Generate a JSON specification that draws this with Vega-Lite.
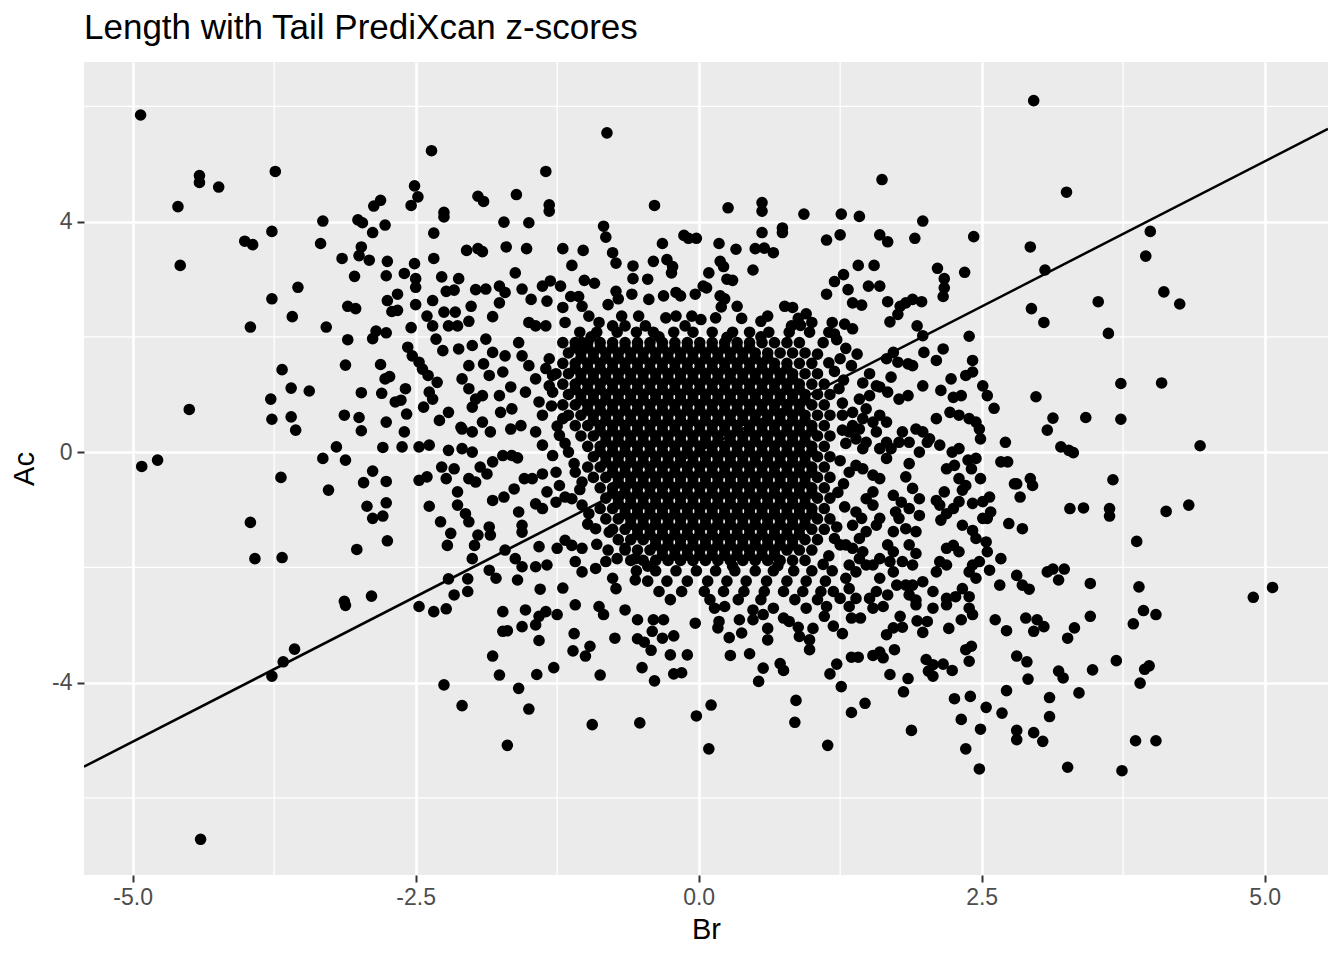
{
  "$schema": "https://vega.github.io/schema/vega-lite/v6.json",
  "description": "Scatter of Br against Ac PrediXcan z-scores with a reference line, ggplot-style panel.",
  "width": 1244,
  "height": 813,
  "autosize": {"type": "none"},
  "padding": {"left": 84, "top": 62, "right": 16, "bottom": 85},
  "title": {
    "text": "Length with Tail PrediXcan z-scores",
    "anchor": "start",
    "frame": "group",
    "font": "Liberation Sans",
    "fontSize": 35,
    "fontWeight": "normal",
    "color": "black",
    "baseline": "alphabetic",
    "offset": 22,
    "dy": 35
  },
  "config": {
    "view": {"fill": "#EBEBEB", "stroke": null},
    "axis": {
      "domain": false,
      "grid": true,
      "gridColor": "white",
      "gridWidth": 2.6,
      "tickColor": "#333333",
      "tickSize": 7,
      "tickWidth": 2,
      "labelColor": "#4D4D4D",
      "labelFont": "Liberation Sans",
      "labelFontSize": 23,
      "titleFont": "Liberation Sans",
      "titleFontSize": 29,
      "titleFontWeight": "normal",
      "titleColor": "black"
    },
    "axisX": {"labelPadding": 4, "titlePadding": 6},
    "axisY": {"labelPadding": 5, "titlePadding": 12}
  },
  "layer": [
    {
      "data": {"values": [{"x": -3.75}, {"x": -1.25}, {"x": 1.25}, {"x": 3.75}]},
      "mark": {"type": "rule", "color": "white", "strokeWidth": 1.3},
      "encoding": {"x": {"field": "x", "type": "quantitative", "title": "Br"}}
    },
    {
      "data": {"values": [{"y": -6}, {"y": -2}, {"y": 2}, {"y": 6}]},
      "mark": {"type": "rule", "color": "white", "strokeWidth": 1.3},
      "encoding": {"y": {"field": "y", "type": "quantitative", "title": "Ac"}}
    },
    {
      "data": {
        "values": "x,y\n-4.93,5.85\n-4.41,4.80\n-4.41,4.68\n-4.24,4.60\n-4.60,4.26\n-3.74,4.87\n-4.58,3.24\n-3.77,3.83\n-4.01,3.66\n-3.94,3.60\n-3.32,4.01\n-3.34,3.62\n-3.01,4.03\n-2.97,3.98\n-2.87,4.27\n-2.81,4.37\n-2.77,3.94\n-2.88,3.81\n-3.15,3.36\n-2.98,3.56\n-3.00,3.41\n-2.91,3.33\n-2.75,3.31\n-3.04,3.05\n-2.76,3.06\n-3.54,2.86\n-3.77,2.66\n-3.10,2.53\n-3.03,2.49\n-2.75,2.63\n-2.71,2.44\n-3.59,2.35\n-3.96,2.17\n-3.29,2.17\n-2.85,2.10\n-2.76,2.07\n-3.10,1.95\n-2.88,1.97\n-3.12,1.51\n-2.81,1.52\n-2.77,1.27\n-2.73,1.31\n-2.98,1.03\n-2.80,1.02\n-2.68,0.87\n-3.68,1.43\n-3.60,1.11\n-3.44,1.06\n-3.78,0.92\n-4.50,0.74\n-3.77,0.57\n-3.60,0.61\n-3.56,0.38\n-3.13,0.64\n-3.00,0.60\n-2.98,0.37\n-2.76,0.52\n-3.20,0.09\n-2.79,0.08\n-4.92,-0.25\n-4.78,-0.14\n-3.32,-0.11\n-3.12,-0.14\n-3.69,-0.44\n-2.88,-0.33\n-2.96,-0.53\n-2.76,-0.51\n-3.27,-0.66\n-2.93,-0.94\n-2.76,-0.88\n-2.88,-1.15\n-2.79,-1.11\n-3.96,-1.22\n-2.75,-1.54\n-3.02,-1.69\n-3.92,-1.85\n-3.68,-1.83\n-3.13,-2.59\n-3.12,-2.66\n-2.89,-2.50\n-3.57,-3.42\n-3.67,-3.64\n-3.77,-3.89\n-4.40,-6.72\n-0.81,5.54\n-2.36,5.23\n-1.35,4.87\n-2.51,4.62\n-2.48,4.43\n-2.54,4.28\n-2.25,4.16\n-2.25,4.08\n-1.95,4.44\n-1.90,4.35\n-1.61,4.47\n-1.32,4.29\n-1.32,4.18\n-0.39,4.28\n-2.34,3.80\n-1.72,3.99\n-1.50,3.98\n-0.84,3.92\n-0.82,3.73\n-0.13,3.76\n-0.09,3.71\n-0.02,3.71\n-0.32,3.62\n-2.34,3.36\n-2.51,3.27\n-2.05,3.50\n-1.95,3.53\n-1.91,3.48\n-1.70,3.56\n-1.52,3.53\n-1.20,3.53\n-1.12,3.24\n-1.02,3.50\n-0.76,3.46\n-0.73,3.28\n-0.58,3.23\n-0.58,3.01\n-0.45,3.00\n-0.40,3.31\n-0.28,3.34\n-0.23,3.22\n-0.24,3.11\n-2.60,3.10\n-2.50,3.01\n-2.50,2.86\n-2.27,3.04\n-2.12,3.01\n-2.66,2.74\n-2.66,2.46\n-2.50,2.56\n-2.35,2.63\n-2.23,2.79\n-2.16,2.81\n-2.25,2.43\n-2.15,2.43\n-2.01,2.53\n-1.97,2.82\n-1.88,2.83\n-1.76,2.88\n-1.71,2.77\n-1.62,3.11\n-1.56,2.83\n-1.76,2.59\n-1.82,2.35\n-2.03,2.27\n-2.40,2.36\n-2.54,2.16\n-2.35,2.19\n-2.21,2.19\n-2.13,2.19\n-1.48,2.65\n-1.38,2.88\n-1.31,2.97\n-1.22,2.88\n-1.34,2.62\n-1.13,2.70\n-1.06,2.70\n-1.01,2.98\n-0.92,2.93\n-0.80,2.56\n-0.73,2.79\n-0.71,2.66\n-0.59,2.74\n-0.44,2.65\n-0.31,2.71\n-0.20,2.77\n-0.16,2.71\n-0.03,2.74\n0.04,2.88\n-1.50,2.25\n-1.44,2.19\n-1.35,2.19\n-1.20,2.51\n-1.18,2.25\n-1.03,2.53\n-0.97,2.36\n-0.88,2.25\n-0.76,2.19\n-0.68,2.36\n-0.65,2.19\n-0.53,2.36\n-0.47,2.19\n-0.29,2.33\n-0.20,2.36\n-0.12,2.19\n-0.06,2.36\n0.02,2.30\n1.62,4.73\n0.26,4.24\n0.56,4.33\n0.56,4.18\n0.93,4.13\n1.26,4.13\n1.42,4.09\n1.98,4.01\n2.43,3.74\n0.56,3.81\n0.74,3.89\n0.74,3.81\n1.13,3.68\n1.25,3.77\n1.60,3.77\n1.67,3.65\n1.91,3.71\n0.18,3.62\n0.33,3.52\n0.50,3.53\n0.58,3.54\n0.66,3.46\n0.19,3.31\n0.22,3.22\n0.09,3.11\n0.48,3.16\n0.25,3.00\n0.30,2.98\n0.07,2.85\n0.19,2.71\n0.23,2.66\n0.20,2.52\n0.34,2.53\n0.15,2.33\n0.38,2.32\n0.55,2.27\n0.61,2.36\n0.76,2.53\n0.83,2.51\n0.88,2.32\n0.82,2.19\n1.41,3.24\n1.55,3.24\n1.28,3.08\n1.20,2.96\n1.32,2.82\n1.50,2.88\n1.60,2.88\n1.13,2.74\n1.36,2.59\n1.44,2.55\n1.67,2.61\n1.78,2.53\n1.83,2.59\n1.89,2.65\n1.97,2.61\n1.76,2.39\n1.69,2.26\n1.93,2.19\n2.11,3.19\n2.17,3.01\n2.17,2.85\n2.16,2.70\n2.35,3.12\n1.18,2.25\n1.29,2.22\n1.36,2.14\n2.96,6.10\n3.25,4.51\n3.99,3.83\n3.95,3.40\n2.93,3.56\n3.06,3.16\n4.11,2.78\n4.25,2.57\n3.53,2.61\n2.94,2.49\n3.05,2.25\n3.62,2.06\n3.73,1.19\n4.09,1.20\n2.98,0.96\n3.13,0.59\n3.08,0.38\n3.42,0.60\n3.73,0.57\n3.20,0.09\n3.27,0.03\n3.31,-0.01\n4.43,0.11\n2.81,-0.55\n2.93,-0.46\n2.95,-0.58\n2.84,-0.78\n3.66,-0.48\n3.28,-0.98\n3.40,-0.97\n3.63,-0.98\n3.63,-1.11\n4.13,-1.03\n4.33,-0.92\n2.86,-1.33\n3.87,-1.55\n3.08,-2.08\n3.13,-2.03\n3.23,-2.03\n3.18,-2.22\n3.46,-2.28\n3.89,-2.34\n2.81,-2.14\n2.86,-2.31\n2.92,-2.38\n4.90,-2.52\n5.07,-2.35\n2.89,-2.88\n2.99,-2.91\n3.05,-3.03\n2.96,-3.11\n3.46,-2.85\n3.32,-3.05\n3.26,-3.23\n3.93,-2.75\n4.04,-2.82\n3.84,-2.98\n2.81,-3.54\n2.90,-3.64\n2.91,-3.94\n3.18,-3.80\n3.22,-3.92\n3.48,-3.78\n3.69,-3.62\n3.98,-3.71\n3.94,-3.77\n3.90,-4.01\n3.10,-4.26\n3.36,-4.18\n3.10,-4.59\n2.81,-4.83\n2.81,-4.99\n2.96,-4.87\n3.04,-5.02\n3.86,-5.01\n4.04,-5.01\n3.26,-5.47\n3.74,-5.53\n0.11,-4.39\n0.09,-5.15\n0.86,-4.31\n0.85,-4.69\n1.14,-5.09\n1.26,-4.07\n1.35,-4.52\n1.47,-4.36\n1.81,-4.16\n1.88,-4.83\n2.26,-4.28\n2.40,-4.24\n2.54,-4.43\n2.68,-4.53\n2.72,-4.14\n2.32,-4.64\n2.49,-4.81\n2.36,-5.15\n2.48,-5.50\n0.53,-3.98\n0.57,-3.75\n0.72,-3.67\n0.75,-3.79\n0.28,-3.53\n0.45,-3.50\n1.16,-3.85\n1.22,-3.68\n1.35,-3.56\n1.41,-3.56\n1.54,-3.53\n1.60,-3.47\n1.63,-3.57\n1.69,-3.86\n1.85,-3.93\n1.73,-3.43\n2.01,-3.60\n2.07,-3.69\n2.03,-3.80\n2.07,-3.89\n2.16,-3.68\n2.24,-3.79\n2.36,-3.43\n2.41,-3.37\n2.39,-3.63\n1.66,-3.17\n1.72,-3.05\n1.80,-3.04\n1.78,-2.85\n1.93,-2.93\n2.02,-2.94\n1.98,-3.13\n2.21,-3.06\n2.32,-2.91\n2.62,-2.91\n2.72,-3.10\n1.35,-2.88\n1.43,-2.88\n1.27,-3.15\n1.01,-3.06\n0.98,-3.26\n0.98,-3.43\n0.89,-3.20\n0.88,-3.04\n0.61,-3.06\n0.61,-3.26\n0.38,-3.14\n0.27,-3.22\n0.18,-2.94\n0.17,-3.05\n0.36,-2.91\n0.48,-2.91\n0.57,-2.82\n0.75,-2.88\n0.80,-2.94\n1.11,-2.85\n1.19,-3.02\n0.14,-2.71\n0.23,-2.68\n0.48,-2.74\n0.66,-2.71\n0.95,-2.71\n1.13,-2.68\n1.33,-2.68\n1.54,-2.71\n1.63,-2.68\n1.92,-2.65\n2.07,-2.71\n2.19,-2.65\n2.39,-2.71\n2.42,-2.82\n-2.25,-4.04\n-2.09,-4.40\n-1.69,-5.09\n-1.59,-4.10\n-1.50,-4.46\n-0.94,-4.73\n-0.52,-4.70\n-0.02,-4.58\n-1.82,-3.54\n-1.76,-3.87\n-1.43,-3.86\n-1.28,-3.74\n-1.11,-3.45\n-1.00,-3.54\n-0.96,-3.37\n-1.10,-3.15\n-0.87,-3.87\n-0.74,-3.23\n-0.50,-3.74\n-0.39,-3.97\n-0.25,-3.52\n-0.10,-3.52\n-0.22,-3.85\n-0.15,-3.83\n-0.54,-3.24\n-0.48,-3.30\n-0.42,-3.44\n-0.32,-3.23\n-0.22,-3.19\n-0.40,-2.91\n-0.31,-2.91\n-0.41,-3.11\n-0.03,-2.97\n-0.65,-2.74\n-0.54,-2.91\n-0.84,-2.82\n-1.73,-2.77\n-1.53,-2.74\n-1.73,-3.11\n-1.69,-3.10\n-1.56,-3.03\n-1.44,-3.00\n-1.41,-3.27\n-1.41,-2.85\n-1.35,-2.77\n-1.25,-2.82\n-1.09,-2.65\n-0.88,-2.68\n-2.34,-2.77\n-2.23,-2.72\n-2.47,-2.68\n-2.62,0.09\n-2.60,0.35\n-2.58,0.66\n-2.63,0.90\n-2.59,1.10\n-2.57,1.82\n-2.47,0.09\n-2.38,0.12\n-2.47,-0.49\n-2.40,-0.43\n-2.38,-0.94\n-2.28,-1.21\n-2.19,-1.41\n-2.22,-1.62\n-2.13,-0.69\n-2.13,-0.92\n-2.06,-1.07\n-2.03,-1.21\n-2.27,-0.26\n-2.16,-0.29\n-2.23,-0.46\n-2.21,0.03\n-2.09,0.06\n-2.00,0.00\n-2.03,-0.46\n-1.97,-0.52\n-1.93,-0.26\n-1.87,-0.38\n-1.82,-0.84\n-1.72,-0.78\n-1.85,-1.30\n-1.84,-1.44\n-1.95,-1.44\n-1.98,-1.62\n-2.00,-1.85\n-2.21,-2.20\n-2.04,-2.20\n-2.04,-2.42\n-2.16,-2.48\n-1.85,-2.05\n-1.79,-2.19\n-1.71,-1.70\n-1.62,-1.85\n-1.56,-1.99\n-1.44,-1.99\n-1.34,-1.96\n-1.60,-2.22\n-1.41,-1.64\n-1.25,-1.67\n-1.18,-1.53\n-1.40,-2.38\n-1.20,-2.36\n-1.56,-1.27\n-1.56,-1.39\n-1.59,-1.04\n-1.63,-0.64\n-1.54,-0.46\n-1.47,-0.46\n-1.38,-0.38\n-1.26,-0.35\n-1.23,-0.58\n-1.34,-0.69\n-1.44,-0.90\n-1.38,-0.98\n-1.26,-0.87\n-1.18,-0.78\n-1.82,-0.17\n-1.73,-0.06\n-1.65,-0.06\n-1.60,-0.10\n-2.09,0.40\n-2.00,0.35\n-1.91,0.52\n-1.84,0.35\n-2.21,0.69\n-2.10,0.43\n-2.29,0.55\n-2.43,0.78\n-2.35,0.92\n-2.38,1.04\n-2.31,1.21\n-2.39,1.33\n-2.44,1.44\n-2.47,1.56\n-2.53,1.67\n-2.32,1.96\n-2.26,1.76\n-2.09,1.27\n-2.03,1.10\n-1.97,0.92\n-1.91,0.98\n-2.00,0.78\n-2.12,1.79\n-2.00,1.85\n-1.88,1.96\n-1.82,1.73\n-2.03,1.50\n-1.90,1.53\n-1.85,1.33\n-1.73,1.39\n-1.71,1.67\n-1.76,0.98\n-1.66,1.13\n-1.65,0.75\n-1.57,0.46\n-1.66,0.40\n-1.75,0.69\n-1.59,1.90\n-1.56,1.67\n-1.50,1.50\n-1.44,1.27\n-1.53,1.04\n-1.41,0.87\n-1.38,0.64\n-1.44,0.35\n-1.38,0.12\n-1.29,-0.06\n-1.32,1.62\n-1.29,1.33\n-1.29,1.04\n-1.20,0.58\n-1.23,0.29\n-1.15,0.00\n-1.09,-0.35\n-1.03,-0.52\n-1.12,-0.81\n-1.03,-0.92\n-0.97,-1.07\n-1.03,1.90\n-0.91,-1.33\n-0.79,-1.39\n-1.03,-1.67\n-1.12,-1.62\n-1.09,-1.90\n-1.03,-2.08\n-0.91,-2.02\n-0.82,-1.90\n-0.72,-1.85\n-0.76,-2.19\n-0.73,-2.37\n-0.65,-1.67\n-0.56,-1.85\n-0.56,-2.22\n1.51,1.36\n1.70,1.30\n1.60,1.13\n1.67,1.04\n1.77,0.92\n1.85,0.98\n1.98,1.15\n2.14,1.07\n2.23,1.27\n2.25,0.95\n2.32,0.98\n2.10,0.58\n2.22,0.69\n2.30,0.64\n2.39,0.58\n2.45,0.52\n2.48,0.40\n2.49,0.23\n2.51,1.15\n2.55,0.98\n2.61,0.76\n2.42,1.59\n2.42,1.39\n2.36,1.33\n2.16,1.79\n2.10,1.59\n1.99,1.73\n1.89,1.50\n1.85,1.53\n2.39,2.01\n1.98,2.02\n1.72,1.73\n1.66,1.62\n1.76,1.56\n2.71,0.17\n2.67,-0.17\n2.73,-0.17\n2.79,-0.55\n2.57,-0.78\n2.74,-1.24\n2.58,-1.04\n2.55,-1.15\n2.54,-1.56\n2.55,-1.73\n2.67,-1.85\n2.57,-2.05\n2.66,-2.31\n2.48,-1.90\n2.42,-1.96\n2.39,-2.08\n2.45,-2.19\n2.33,-2.37\n2.39,-2.51\n2.19,-1.96\n2.13,-1.90\n2.10,-2.08\n2.25,-1.62\n2.30,-1.73\n2.19,-1.67\n2.33,-1.27\n2.42,-1.36\n2.45,-1.50\n2.51,-1.15\n2.42,-0.89\n2.51,-0.86\n2.25,-0.98\n2.30,-0.86\n2.13,-0.92\n2.19,-1.07\n2.14,-1.18\n2.10,-0.84\n2.17,-0.69\n2.19,-0.29\n2.26,-0.23\n2.30,-0.46\n2.36,-0.58\n2.33,-0.66\n2.41,-0.29\n2.24,0.00\n2.30,0.06\n2.38,-0.14\n2.45,-0.11\n2.49,-0.46\n2.13,0.12\n2.02,0.17\n1.98,0.35\n2.04,0.23\n1.95,0.00\n1.86,-0.20\n1.83,-0.43\n1.89,-0.63\n1.95,-0.81\n1.86,-0.98\n1.95,-1.10\n1.92,-1.38\n1.86,-1.61\n1.92,-1.76\n1.89,-1.96\n1.98,-2.25\n1.89,-2.31\n2.07,-2.42\n2.19,-2.54\n2.27,-2.51\n1.80,0.35\n1.92,0.40\n1.86,0.17\n1.70,0.06\n1.77,0.17\n1.66,-0.11\n1.72,-0.75\n1.79,-0.87\n1.74,-1.04\n1.77,-1.15\n1.72,-1.38\n1.83,-1.33\n1.67,-1.61\n1.72,-1.73\n1.80,-1.90\n1.60,-1.85\n1.69,-1.90\n1.54,-1.96\n1.72,-2.08\n1.60,-2.19\n1.75,-2.31\n1.67,-2.48\n1.83,-2.31\n1.86,-2.48\n1.92,-2.57\n1.57,-2.42\n1.51,-2.54\n1.42,-1.85\n1.45,-1.73\n1.48,-1.96\n1.54,-0.92\n1.57,-1.27\n1.48,-1.38\n1.42,-1.50\n1.60,-1.15\n1.39,-1.04\n1.44,-1.15\n1.36,-1.27\n1.30,-1.61\n1.25,-1.61\n1.36,-1.67\n1.33,-1.96\n1.39,-2.08\n1.30,-2.19\n1.33,-2.37\n1.39,-2.54\n1.25,-2.54\n1.19,-2.42\n1.48,-0.81\n1.54,-0.69\n1.60,-0.46\n1.54,-0.40\n1.45,-0.29\n1.39,-0.23\n1.33,-0.35\n1.45,0.06\n1.39,0.23\n1.33,0.35\n1.42,0.40\n1.48,0.17\n1.60,0.06\n1.66,0.17\n1.57,0.35\n1.36,0.46\n1.45,0.58\n1.54,0.52\n1.60,0.64\n1.66,0.52\n1.48,0.75\n1.42,0.92\n1.51,0.98\n1.57,1.15\n1.27,0.38\n1.27,0.64\n1.36,0.69\n1.22,1.95\n1.30,1.80\n1.25,1.62\n1.35,1.50\n1.20,1.40\n1.40,1.70\n1.28,1.25\n1.45,1.20\n1.00,2.25\n1.10,1.90\n1.05,1.70\n1.15,1.55\n0.95,2.40\n1.20,2.05\n0.90,2.20\n1.24,1.10\n1.27,0.85\n1.30,0.15\n1.25,-0.15\n1.28,-0.55\n1.23,-0.70\n1.29,-0.95\n1.22,-1.30\n1.20,-1.50\n1.15,-1.80\n1.10,-1.95\n-1.35,1.45\n-1.32,1.15\n-1.30,0.80\n-1.25,0.45\n-1.18,0.15\n-1.10,-0.20\n-1.05,-0.65\n-0.98,-1.25\n-0.90,-1.60\n-0.80,-1.70\n-0.45,-1.98\n0.30,-1.98\n0.70,-1.97\n-0.95,2.00\n-0.35,2.00\n0.25,1.99\n0.55,2.00\n-1.05,2.08\n-0.90,2.08\n-0.72,2.08\n-0.55,2.08\n-0.40,2.08\n-0.22,2.08\n-0.05,2.08\n0.12,2.08\n0.30,2.08\n0.45,2.08\n0.62,2.08\n0.80,2.08\n0.98,2.08\n1.15,2.08\n-0.55,-2.06\n-0.38,-2.06\n-0.20,-2.06\n-0.02,-2.06\n0.15,-2.06\n0.32,-2.06\n0.50,-2.06\n0.66,-2.06\n0.84,-2.06\n1.00,-2.06\n1.18,-2.06\n-0.45,-2.24\n-0.28,-2.24\n-0.10,-2.24\n0.08,-2.24\n0.25,-2.24\n0.42,-2.24\n0.60,-2.24\n0.78,-2.24\n0.95,-2.24\n1.12,-2.24\n-0.35,-2.42\n-0.15,-2.42\n0.05,-2.42\n0.22,-2.42\n0.40,-2.42\n0.58,-2.42\n0.75,-2.42\n0.92,-2.42\n1.08,-2.42\n-0.25,-2.56\n0.10,-2.56\n0.35,-2.56\n0.55,-2.56\n0.85,-2.56\n1.05,-2.56\n-1.20,1.90\n-1.09,1.90\n-0.98,1.90\n-0.87,1.90\n-0.76,1.90\n-0.65,1.90\n-0.54,1.90\n-0.43,1.90\n-0.32,1.90\n-0.21,1.90\n-0.10,1.90\n0.01,1.90\n0.12,1.90\n0.23,1.90\n0.34,1.90\n0.45,1.90\n0.56,1.90\n0.67,1.90\n0.78,1.90\n0.89,1.90\n-1.15,1.72\n-1.04,1.72\n-0.93,1.72\n-0.82,1.72\n-0.71,1.72\n-0.60,1.72\n-0.49,1.72\n-0.38,1.72\n-0.27,1.72\n-0.16,1.72\n-0.05,1.72\n0.06,1.72\n0.17,1.72\n0.28,1.72\n0.39,1.72\n0.50,1.72\n0.61,1.72\n0.72,1.72\n0.83,1.72\n0.94,1.72\n-1.20,1.54\n-1.09,1.54\n-0.98,1.54\n-0.87,1.54\n-0.76,1.54\n-0.65,1.54\n-0.54,1.54\n-0.43,1.54\n-0.32,1.54\n-0.21,1.54\n-0.10,1.54\n0.01,1.54\n0.12,1.54\n0.23,1.54\n0.34,1.54\n0.45,1.54\n0.56,1.54\n0.67,1.54\n0.78,1.54\n0.89,1.54\n1.00,1.54\n-1.26,1.36\n-1.15,1.36\n-1.04,1.36\n-0.93,1.36\n-0.82,1.36\n-0.71,1.36\n-0.60,1.36\n-0.49,1.36\n-0.38,1.36\n-0.27,1.36\n-0.16,1.36\n-0.05,1.36\n0.06,1.36\n0.17,1.36\n0.28,1.36\n0.39,1.36\n0.50,1.36\n0.61,1.36\n0.72,1.36\n0.83,1.36\n0.94,1.36\n1.05,1.36\n-1.20,1.18\n-1.09,1.18\n-0.98,1.18\n-0.87,1.18\n-0.76,1.18\n-0.65,1.18\n-0.54,1.18\n-0.43,1.18\n-0.32,1.18\n-0.21,1.18\n-0.10,1.18\n0.01,1.18\n0.12,1.18\n0.23,1.18\n0.34,1.18\n0.45,1.18\n0.56,1.18\n0.67,1.18\n0.78,1.18\n0.89,1.18\n1.00,1.18\n1.11,1.18\n-1.15,1.00\n-1.04,1.00\n-0.93,1.00\n-0.82,1.00\n-0.71,1.00\n-0.60,1.00\n-0.49,1.00\n-0.38,1.00\n-0.27,1.00\n-0.16,1.00\n-0.05,1.00\n0.06,1.00\n0.17,1.00\n0.28,1.00\n0.39,1.00\n0.50,1.00\n0.61,1.00\n0.72,1.00\n0.83,1.00\n0.94,1.00\n1.05,1.00\n1.16,1.00\n-1.20,0.82\n-1.09,0.82\n-0.98,0.82\n-0.87,0.82\n-0.76,0.82\n-0.65,0.82\n-0.54,0.82\n-0.43,0.82\n-0.32,0.82\n-0.21,0.82\n-0.10,0.82\n0.01,0.82\n0.12,0.82\n0.23,0.82\n0.34,0.82\n0.45,0.82\n0.56,0.82\n0.67,0.82\n0.78,0.82\n0.89,0.82\n1.00,0.82\n1.11,0.82\n-1.15,0.64\n-1.04,0.64\n-0.93,0.64\n-0.82,0.64\n-0.71,0.64\n-0.60,0.64\n-0.49,0.64\n-0.38,0.64\n-0.27,0.64\n-0.16,0.64\n-0.05,0.64\n0.06,0.64\n0.17,0.64\n0.28,0.64\n0.39,0.64\n0.50,0.64\n0.61,0.64\n0.72,0.64\n0.83,0.64\n0.94,0.64\n1.05,0.64\n1.16,0.64\n-1.09,0.46\n-0.98,0.46\n-0.87,0.46\n-0.76,0.46\n-0.65,0.46\n-0.54,0.46\n-0.43,0.46\n-0.32,0.46\n-0.21,0.46\n-0.10,0.46\n0.01,0.46\n0.12,0.46\n0.23,0.46\n0.34,0.46\n0.45,0.46\n0.56,0.46\n0.67,0.46\n0.78,0.46\n0.89,0.46\n1.00,0.46\n1.11,0.46\n-1.04,0.28\n-0.93,0.28\n-0.82,0.28\n-0.71,0.28\n-0.60,0.28\n-0.49,0.28\n-0.38,0.28\n-0.27,0.28\n-0.16,0.28\n-0.05,0.28\n0.06,0.28\n0.17,0.28\n0.28,0.28\n0.39,0.28\n0.50,0.28\n0.61,0.28\n0.72,0.28\n0.83,0.28\n0.94,0.28\n1.05,0.28\n1.16,0.28\n-0.98,0.10\n-0.87,0.10\n-0.76,0.10\n-0.65,0.10\n-0.54,0.10\n-0.43,0.10\n-0.32,0.10\n-0.21,0.10\n-0.10,0.10\n0.01,0.10\n0.12,0.10\n0.23,0.10\n0.34,0.10\n0.45,0.10\n0.56,0.10\n0.67,0.10\n0.78,0.10\n0.89,0.10\n1.00,0.10\n1.11,0.10\n-0.93,-0.08\n-0.82,-0.08\n-0.71,-0.08\n-0.60,-0.08\n-0.49,-0.08\n-0.38,-0.08\n-0.27,-0.08\n-0.16,-0.08\n-0.05,-0.08\n0.06,-0.08\n0.17,-0.08\n0.28,-0.08\n0.39,-0.08\n0.50,-0.08\n0.61,-0.08\n0.72,-0.08\n0.83,-0.08\n0.94,-0.08\n1.05,-0.08\n1.16,-0.08\n-0.98,-0.26\n-0.87,-0.26\n-0.76,-0.26\n-0.65,-0.26\n-0.54,-0.26\n-0.43,-0.26\n-0.32,-0.26\n-0.21,-0.26\n-0.10,-0.26\n0.01,-0.26\n0.12,-0.26\n0.23,-0.26\n0.34,-0.26\n0.45,-0.26\n0.56,-0.26\n0.67,-0.26\n0.78,-0.26\n0.89,-0.26\n1.00,-0.26\n1.11,-0.26\n-0.93,-0.44\n-0.82,-0.44\n-0.71,-0.44\n-0.60,-0.44\n-0.49,-0.44\n-0.38,-0.44\n-0.27,-0.44\n-0.16,-0.44\n-0.05,-0.44\n0.06,-0.44\n0.17,-0.44\n0.28,-0.44\n0.39,-0.44\n0.50,-0.44\n0.61,-0.44\n0.72,-0.44\n0.83,-0.44\n0.94,-0.44\n1.05,-0.44\n1.16,-0.44\n-0.87,-0.62\n-0.76,-0.62\n-0.65,-0.62\n-0.54,-0.62\n-0.43,-0.62\n-0.32,-0.62\n-0.21,-0.62\n-0.10,-0.62\n0.01,-0.62\n0.12,-0.62\n0.23,-0.62\n0.34,-0.62\n0.45,-0.62\n0.56,-0.62\n0.67,-0.62\n0.78,-0.62\n0.89,-0.62\n1.00,-0.62\n1.11,-0.62\n-0.82,-0.80\n-0.71,-0.80\n-0.60,-0.80\n-0.49,-0.80\n-0.38,-0.80\n-0.27,-0.80\n-0.16,-0.80\n-0.05,-0.80\n0.06,-0.80\n0.17,-0.80\n0.28,-0.80\n0.39,-0.80\n0.50,-0.80\n0.61,-0.80\n0.72,-0.80\n0.83,-0.80\n0.94,-0.80\n1.05,-0.80\n1.16,-0.80\n-0.87,-0.98\n-0.76,-0.98\n-0.65,-0.98\n-0.54,-0.98\n-0.43,-0.98\n-0.32,-0.98\n-0.21,-0.98\n-0.10,-0.98\n0.01,-0.98\n0.12,-0.98\n0.23,-0.98\n0.34,-0.98\n0.45,-0.98\n0.56,-0.98\n0.67,-0.98\n0.78,-0.98\n0.89,-0.98\n1.00,-0.98\n1.11,-0.98\n-0.82,-1.16\n-0.71,-1.16\n-0.60,-1.16\n-0.49,-1.16\n-0.38,-1.16\n-0.27,-1.16\n-0.16,-1.16\n-0.05,-1.16\n0.06,-1.16\n0.17,-1.16\n0.28,-1.16\n0.39,-1.16\n0.50,-1.16\n0.61,-1.16\n0.72,-1.16\n0.83,-1.16\n0.94,-1.16\n1.05,-1.16\n1.16,-1.16\n-0.76,-1.34\n-0.65,-1.34\n-0.54,-1.34\n-0.43,-1.34\n-0.32,-1.34\n-0.21,-1.34\n-0.10,-1.34\n0.01,-1.34\n0.12,-1.34\n0.23,-1.34\n0.34,-1.34\n0.45,-1.34\n0.56,-1.34\n0.67,-1.34\n0.78,-1.34\n0.89,-1.34\n1.00,-1.34\n1.11,-1.34\n-0.71,-1.52\n-0.60,-1.52\n-0.49,-1.52\n-0.38,-1.52\n-0.27,-1.52\n-0.16,-1.52\n-0.05,-1.52\n0.06,-1.52\n0.17,-1.52\n0.28,-1.52\n0.39,-1.52\n0.50,-1.52\n0.61,-1.52\n0.72,-1.52\n0.83,-1.52\n0.94,-1.52\n1.05,-1.52\n-0.65,-1.70\n-0.54,-1.70\n-0.43,-1.70\n-0.32,-1.70\n-0.21,-1.70\n-0.10,-1.70\n0.01,-1.70\n0.12,-1.70\n0.23,-1.70\n0.34,-1.70\n0.45,-1.70\n0.56,-1.70\n0.67,-1.70\n0.78,-1.70\n0.89,-1.70\n1.00,-1.70\n-0.60,-1.88\n-0.49,-1.88\n-0.38,-1.88\n-0.27,-1.88\n-0.16,-1.88\n-0.05,-1.88\n0.06,-1.88\n0.17,-1.88\n0.28,-1.88\n0.39,-1.88\n0.50,-1.88\n0.61,-1.88\n0.72,-1.88\n0.83,-1.88\n0.94,-1.88\n-1.09,1.81\n-0.98,1.81\n-0.87,1.81\n-0.76,1.81\n-0.65,1.81\n-0.54,1.81\n-0.43,1.81\n-0.32,1.81\n-0.21,1.81\n-0.10,1.81\n0.01,1.81\n0.12,1.81\n0.23,1.81\n0.34,1.81\n0.45,1.81\n-1.04,1.63\n-0.93,1.63\n-0.82,1.63\n-0.71,1.63\n-0.60,1.63\n-0.49,1.63\n-0.38,1.63\n-0.27,1.63\n-0.16,1.63\n-0.05,1.63\n0.06,1.63\n0.17,1.63\n0.28,1.63\n0.39,1.63\n0.50,1.63\n0.61,1.63\n-1.09,1.45\n-0.98,1.45\n-0.87,1.45\n-0.76,1.45\n-0.65,1.45\n-0.54,1.45\n-0.43,1.45\n-0.32,1.45\n-0.21,1.45\n-0.10,1.45\n0.01,1.45\n0.12,1.45\n0.23,1.45\n0.34,1.45\n0.45,1.45\n0.56,1.45\n0.67,1.45\n0.78,1.45\n-1.04,1.27\n-0.93,1.27\n-0.82,1.27\n-0.71,1.27\n-0.60,1.27\n-0.49,1.27\n-0.38,1.27\n-0.27,1.27\n-0.16,1.27\n-0.05,1.27\n0.06,1.27\n0.17,1.27\n0.28,1.27\n0.39,1.27\n0.50,1.27\n0.61,1.27\n0.72,1.27\n0.83,1.27\n-1.09,1.09\n-0.98,1.09\n-0.87,1.09\n-0.76,1.09\n-0.65,1.09\n-0.54,1.09\n-0.43,1.09\n-0.32,1.09\n-0.21,1.09\n-0.10,1.09\n0.01,1.09\n0.12,1.09\n0.23,1.09\n0.34,1.09\n0.45,1.09\n0.56,1.09\n0.67,1.09\n0.78,1.09\n0.89,1.09\n-1.04,0.91\n-0.93,0.91\n-0.82,0.91\n-0.71,0.91\n-0.60,0.91\n-0.49,0.91\n-0.38,0.91\n-0.27,0.91\n-0.16,0.91\n-0.05,0.91\n0.06,0.91\n0.17,0.91\n0.28,0.91\n0.39,0.91\n0.50,0.91\n0.61,0.91\n0.72,0.91\n0.83,0.91\n0.94,0.91\n-0.98,0.73\n-0.87,0.73\n-0.76,0.73\n-0.65,0.73\n-0.54,0.73\n-0.43,0.73\n-0.32,0.73\n-0.21,0.73\n-0.10,0.73\n0.01,0.73\n0.12,0.73\n0.23,0.73\n0.34,0.73\n0.45,0.73\n0.56,0.73\n0.67,0.73\n0.78,0.73\n0.89,0.73\n-0.93,0.55\n-0.82,0.55\n-0.71,0.55\n-0.60,0.55\n-0.49,0.55\n-0.38,0.55\n-0.27,0.55\n-0.16,0.55\n-0.05,0.55\n0.06,0.55\n0.17,0.55\n0.28,0.55\n0.39,0.55\n0.50,0.55\n0.61,0.55\n0.72,0.55\n0.83,0.55\n0.94,0.55\n-0.87,0.37\n-0.76,0.37\n-0.65,0.37\n-0.54,0.37\n-0.43,0.37\n-0.32,0.37\n-0.21,0.37\n-0.10,0.37\n0.01,0.37\n0.12,0.37\n0.23,0.37\n0.34,0.37\n0.45,0.37\n0.56,0.37\n0.67,0.37\n0.78,0.37\n0.89,0.37\n1.00,0.37\n-0.82,0.19\n-0.71,0.19\n-0.60,0.19\n-0.49,0.19\n-0.38,0.19\n-0.27,0.19\n-0.16,0.19\n-0.05,0.19\n0.06,0.19\n0.17,0.19\n0.28,0.19\n0.39,0.19\n0.50,0.19\n0.61,0.19\n0.72,0.19\n0.83,0.19\n0.94,0.19\n-0.87,0.01\n-0.76,0.01\n-0.65,0.01\n-0.54,0.01\n-0.43,0.01\n-0.32,0.01\n-0.21,0.01\n-0.10,0.01\n0.01,0.01\n0.12,0.01\n0.23,0.01\n0.34,0.01\n0.45,0.01\n0.56,0.01\n0.67,0.01\n0.78,0.01\n0.89,0.01\n1.00,0.01\n-0.82,-0.17\n-0.71,-0.17\n-0.60,-0.17\n-0.49,-0.17\n-0.38,-0.17\n-0.27,-0.17\n-0.16,-0.17\n-0.05,-0.17\n0.06,-0.17\n0.17,-0.17\n0.28,-0.17\n0.39,-0.17\n0.50,-0.17\n0.61,-0.17\n0.72,-0.17\n0.83,-0.17\n0.94,-0.17\n-0.76,-0.35\n-0.65,-0.35\n-0.54,-0.35\n-0.43,-0.35\n-0.32,-0.35\n-0.21,-0.35\n-0.10,-0.35\n0.01,-0.35\n0.12,-0.35\n0.23,-0.35\n0.34,-0.35\n0.45,-0.35\n0.56,-0.35\n0.67,-0.35\n0.78,-0.35\n0.89,-0.35\n1.00,-0.35\n-0.71,-0.53\n-0.60,-0.53\n-0.49,-0.53\n-0.38,-0.53\n-0.27,-0.53\n-0.16,-0.53\n-0.05,-0.53\n0.06,-0.53\n0.17,-0.53\n0.28,-0.53\n0.39,-0.53\n0.50,-0.53\n0.61,-0.53\n0.72,-0.53\n0.83,-0.53\n0.94,-0.53\n-0.76,-0.71\n-0.65,-0.71\n-0.54,-0.71\n-0.43,-0.71\n-0.32,-0.71\n-0.21,-0.71\n-0.10,-0.71\n0.01,-0.71\n0.12,-0.71\n0.23,-0.71\n0.34,-0.71\n0.45,-0.71\n0.56,-0.71\n0.67,-0.71\n0.78,-0.71\n0.89,-0.71\n1.00,-0.71\n-0.71,-0.89\n-0.60,-0.89\n-0.49,-0.89\n-0.38,-0.89\n-0.27,-0.89\n-0.16,-0.89\n-0.05,-0.89\n0.06,-0.89\n0.17,-0.89\n0.28,-0.89\n0.39,-0.89\n0.50,-0.89\n0.61,-0.89\n0.72,-0.89\n0.83,-0.89\n0.94,-0.89\n-0.65,-1.07\n-0.54,-1.07\n-0.43,-1.07\n-0.32,-1.07\n-0.21,-1.07\n-0.10,-1.07\n0.01,-1.07\n0.12,-1.07\n0.23,-1.07\n0.34,-1.07\n0.45,-1.07\n0.56,-1.07\n0.67,-1.07\n0.78,-1.07\n0.89,-1.07\n1.00,-1.07\n-0.60,-1.25\n-0.49,-1.25\n-0.38,-1.25\n-0.27,-1.25\n-0.16,-1.25\n-0.05,-1.25\n0.06,-1.25\n0.17,-1.25\n0.28,-1.25\n0.39,-1.25\n0.50,-1.25\n0.61,-1.25\n0.72,-1.25\n0.83,-1.25\n0.94,-1.25\n-0.54,-1.43\n-0.43,-1.43\n-0.32,-1.43\n-0.21,-1.43\n-0.10,-1.43\n0.01,-1.43\n0.12,-1.43\n0.23,-1.43\n0.34,-1.43\n0.45,-1.43\n0.56,-1.43\n0.67,-1.43\n0.78,-1.43\n0.89,-1.43\n-0.38,-1.61\n-0.27,-1.61\n-0.16,-1.61\n-0.05,-1.61\n0.06,-1.61\n0.17,-1.61\n0.28,-1.61\n0.39,-1.61\n0.50,-1.61\n0.61,-1.61\n0.72,-1.61\n0.83,-1.61\n-0.32,-1.79\n-0.21,-1.79\n-0.10,-1.79\n0.01,-1.79\n0.12,-1.79\n0.23,-1.79\n0.34,-1.79\n0.45,-1.79\n0.56,-1.79\n0.67,-1.79",
        "format": {"type": "csv", "parse": {"x": "number", "y": "number"}}
      },
      "mark": {"type": "circle", "size": 135, "color": "black", "opacity": 1},
      "encoding": {
        "x": {
          "field": "x",
          "type": "quantitative",
          "title": "Br",
          "scale": {"domain": [-5.43, 5.56], "nice": false, "zero": false},
          "axis": {"values": [-5, -2.5, 0, 2.5, 5], "format": ".1f", "labelExpr": "replace(datum.label, '−', '-')"}
        },
        "y": {
          "field": "y",
          "type": "quantitative",
          "title": "Ac",
          "scale": {"domain": [-7.34, 6.77], "nice": false, "zero": false},
          "axis": {"values": [-4, 0, 4], "format": "d", "labelExpr": "replace(datum.label, '−', '-')"}
        }
      }
    },
    {
      "data": {"values": [{"x": -5.43, "y": -5.46}, {"x": 5.56, "y": 5.61}]},
      "mark": {"type": "line", "color": "black", "strokeWidth": 2.5, "clip": true},
      "encoding": {
        "x": {"field": "x", "type": "quantitative", "title": "Br"},
        "y": {"field": "y", "type": "quantitative", "title": "Ac"}
      }
    }
  ]
}
